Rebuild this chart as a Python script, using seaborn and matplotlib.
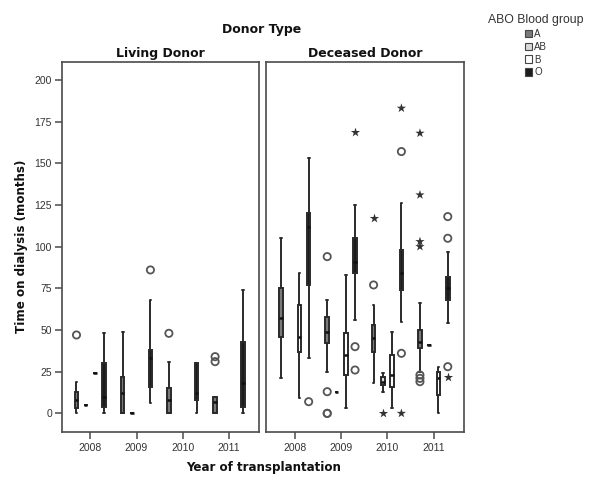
import matplotlib
matplotlib.use('Agg')
import matplotlib.pyplot as plt
import seaborn as sns
import pandas as pd
from matplotlib.patches import Patch

# ---------------- data ----------------
years = ['2008', '2009', '2010', '2011']
groups = ['A', 'AB', 'B', 'O']
group_colors = ['#7a7a7a', '#d9d9d9', '#ffffff', '#1c1c1c']
y_ticks = [0, 25, 50, 75, 100, 125, 150, 175, 200]

# Living donor box summaries (min whisker, Q1, median, Q3, max whisker)
living_year = ['2008', '2008', '2008', '2008', '2009', '2009', '2009', '2010', '2010', '2011', '2011']
living_group = ['A', 'AB', 'B', 'O', 'A', 'AB', 'O', 'A', 'O', 'A', 'O']
living_min = [0, 5, 24, 0, 0, 0, 6, 0, 0, 0, 0]
living_q1 = [3, 5, 24, 4, 0, 0, 16, 0, 8, 0, 4]
living_med = [8, 5, 24, 10, 12, 0, 33, 8, 12, 7, 18]
living_q3 = [13, 5, 24, 30, 22, 0, 38, 15, 30, 10, 43]
living_max = [19, 5, 24, 48, 49, 0, 68, 31, 30, 10, 74]

# Living donor outliers
living_out_year = ['2008', '2009', '2010', '2011', '2011']
living_out_group = ['A', 'O', 'A', 'A', 'A']
living_out_value = [47, 86, 48, 31, 34]
living_out_kind = ['o', 'o', 'o', 'o', 'o']

# Deceased donor box summaries
deceased_year = ['2008', '2008', '2008', '2009', '2009', '2009', '2009',
                 '2010', '2010', '2010', '2010', '2011', '2011', '2011', '2011']
deceased_group = ['A', 'B', 'O', 'A', 'AB', 'B', 'O',
                  'A', 'AB', 'B', 'O', 'A', 'AB', 'B', 'O']
deceased_min = [21, 9, 33, 25, 13, 3, 56, 18, 13, 3, 55, 25, 41, 0, 54]
deceased_q1 = [46, 37, 77, 42, 13, 23, 84, 37, 17, 16, 74, 39, 41, 11, 68]
deceased_med = [57, 46, 112, 49, 13, 35, 91, 45, 19, 23, 84, 43, 41, 21, 75]
deceased_q3 = [75, 65, 120, 58, 13, 48, 105, 53, 22, 35, 98, 50, 41, 25, 82]
deceased_max = [105, 84, 153, 68, 13, 83, 125, 65, 24, 49, 126, 66, 41, 28, 97]

# Deceased donor outliers ('o' = outlier, '*' = extreme)
deceased_out_year = ['2008', '2009', '2009', '2009', '2009', '2009', '2009', '2009',
                     '2010', '2010', '2010', '2010', '2010', '2010', '2010',
                     '2011', '2011', '2011', '2011', '2011', '2011', '2011',
                     '2011', '2011', '2011', '2011']
deceased_out_group = ['O', 'A', 'A', 'A', 'A', 'O', 'O', 'O',
                      'A', 'A', 'AB', 'O', 'O', 'O', 'O',
                      'A', 'A', 'A', 'A', 'A', 'A', 'A',
                      'O', 'O', 'O', 'O']
deceased_out_value = [7, 94, 13, 0, 0, 40, 26, 169,
                      77, 117, 0, 157, 36, 183, 0,
                      23, 21, 19, 168, 131, 103, 100,
                      118, 105, 28, 22]
deceased_out_kind = ['o', 'o', 'o', 'o', 'o', 'o', 'o', '*',
                     'o', '*', '*', 'o', 'o', '*', '*',
                     'o', 'o', 'o', '*', '*', '*', '*',
                     'o', 'o', 'o', '*']


def box_frame(yr, gr, mn, q1, md, q3, mx):
    rows = []
    for i in range(len(yr)):
        for v in (mn[i], q1[i], md[i], q3[i], mx[i]):
            rows.append({'year': yr[i], 'group': gr[i], 'value': v})
    return pd.DataFrame(rows)


def out_frame(yr, gr, val, kind):
    return pd.DataFrame({'year': yr, 'group': gr, 'value': val, 'kind': kind})


panels = [
    ('Living Donor',
     box_frame(living_year, living_group, living_min, living_q1, living_med, living_q3, living_max),
     out_frame(living_out_year, living_out_group, living_out_value, living_out_kind)),
    ('Deceased Donor',
     box_frame(deceased_year, deceased_group, deceased_min, deceased_q1, deceased_med, deceased_q3, deceased_max),
     out_frame(deceased_out_year, deceased_out_group, deceased_out_value, deceased_out_kind)),
]

# ---------------- style ----------------
sns.set_theme(style='ticks')
plt.rcParams['font.family'] = ['Liberation Sans', 'DejaVu Sans']
edge = '#4a4a4a'

W, H = 592, 483
fig = plt.figure(figsize=(W / 100, H / 100), dpi=100)
bottom = (H - 431.7) / H
height = (431.7 - 61.5) / H
ax1 = fig.add_axes([61.7 / W, bottom, 197.3 / W, height])
ax2 = fig.add_axes([266 / W, bottom, 198 / W, height], sharey=ax1)
palette = dict(zip(groups, group_colors))

for ax, (title, bdf, odf) in zip([ax1, ax2], panels):
    sns.boxplot(data=bdf, x='year', y='value', hue='group', order=years, hue_order=groups,
                palette=palette, whis=(0, 100), width=0.8, gap=0.62, linewidth=1.4,
                linecolor='#2a2a2a', showfliers=False, legend=False, ax=ax,
                medianprops=dict(color='#111111', linewidth=1.8))
    circ = odf[odf['kind'] == 'o']
    n0 = len(ax.collections)
    sns.stripplot(data=circ, x='year', y='value', hue='group', order=years, hue_order=groups,
                  dodge=True, jitter=False, marker='o', size=5.2, linewidth=1.3,
                  edgecolor='#555555', palette=['#555555'] * 4, legend=False, ax=ax)
    for c in ax.collections[n0:]:
        c.set_facecolor('none')
        c.set_edgecolor('#555555')
    stars = odf[odf['kind'] == '*']
    if len(stars):
        sns.stripplot(data=stars, x='year', y='value', hue='group', order=years, hue_order=groups,
                      dodge=True, jitter=False, marker='*', size=7, linewidth=0,
                      palette=['#333333'] * 4, legend=False, ax=ax)
    ax.set_xlim(-0.62, 3.65)
    ax.set_title(title, fontsize=9, fontweight='bold', family='DejaVu Sans', pad=3, color='#111111')
    ax.set_xlabel('')
    ax.set_ylabel('')
    for sp in ax.spines.values():
        sp.set_visible(True)
        sp.set_color(edge)
        sp.set_linewidth(1.2)
    ax.tick_params(axis='x', length=5, width=1.1, color=edge, labelsize=7.5,
                   labelcolor='#333333', pad=3, direction='out')
    ax.tick_params(axis='y', length=5, width=1.1, color=edge, labelsize=7.5,
                   labelcolor='#333333', pad=2, direction='out')
    ax.grid(False)

ax1.set_ylim(-11, 211)
ax1.set_yticks(y_ticks)
ax1.set_yticklabels([str(t) for t in y_ticks])
ax2.tick_params(axis='y', left=False, labelleft=False)

fig.text(262 / W, 1 - 29.7 / H, 'Donor Type', ha='center', va='center', fontsize=9,
         fontweight='bold', family='DejaVu Sans', color='#111111')
fig.text(22 / W, 1 - 246.6 / H, 'Time on dialysis (months)', ha='center', va='center',
         rotation=90, fontsize=8.6, fontweight='bold', family='DejaVu Sans', color='#111111')
fig.text(264 / W, 1 - 467 / H, 'Year of transplantation', ha='center', va='center',
         fontsize=8.6, fontweight='bold', family='DejaVu Sans', color='#111111')

handles = [Patch(facecolor=c, edgecolor='#444444', linewidth=0.8) for c in group_colors]
leg = fig.legend(handles, groups, title='ABO Blood group', loc='upper center',
                 bbox_to_anchor=(536 / W, 1 - 7 / H), frameon=False, fontsize=7,
                 title_fontsize=8.8, handlelength=0.75, handleheight=0.8, handletextpad=0.2,
                 labelspacing=0.3, borderpad=0.2, alignment='center')
leg.get_title().set_color('#333333')
for t in leg.get_texts():
    t.set_color('#333333')

fig.savefig('out.png', dpi=100)
